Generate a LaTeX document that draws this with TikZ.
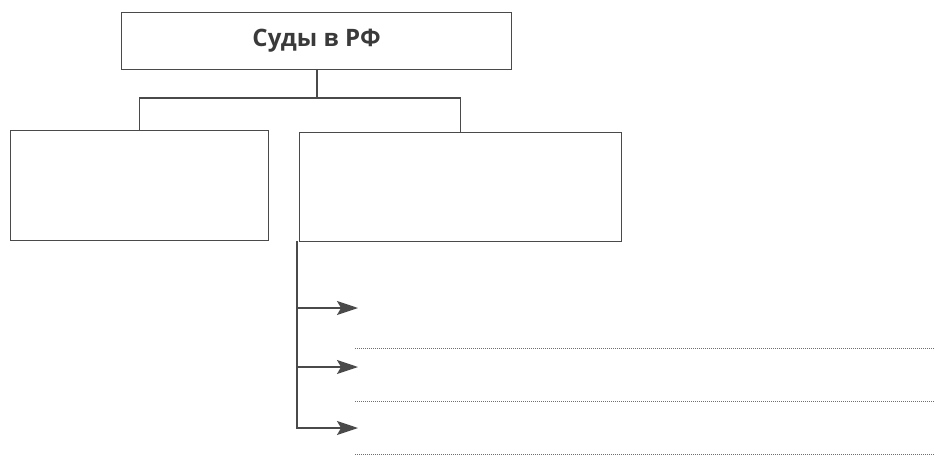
\documentclass[tikz,border=0pt]{standalone}
\usepackage{fontspec}
\setmainfont{Open Sans}
\usetikzlibrary{arrows.meta}
\definecolor{ln}{HTML}{4A4A4A}
\definecolor{tx}{HTML}{3A3A3A}
\begin{document}
\begin{tikzpicture}[x=1pt,y=-1pt,
  box/.style={draw=ln,line width=1.3pt,inner sep=0pt,anchor=north west},
  link/.style={draw=ln,line width=1.3pt},
  arr/.style={link,-{Stealth[length=21pt,width=14pt,inset=4pt]}},
  dots/.style={draw=ln!80,line width=0.8pt,dash pattern=on 0.9pt off 1.1pt}]
\useasboundingbox (0,0) rectangle (934,458);
\node[box,minimum width=390pt,minimum height=57pt,font=\bfseries\fontsize{24}{28}\selectfont,text=tx] (top) at (121,12) {Суды в РФ};
\node[box,minimum width=258pt,minimum height=110pt] (left) at (10,130) {};
\node[box,minimum width=322pt,minimum height=109pt] (right) at (299,132) {};
\coordinate (j) at (317,98);
\draw[link] (top.south -| j) -- (j);
\draw[link] (left.north) |- (j) -| (right.north);
\coordinate (a1) at (358,308);
\coordinate (a2) at (358,367);
\coordinate (a3) at (358,428);
\coordinate (v) at (297,241);
\draw[arr] (v) |- (a3);
\draw[arr] (v |- a1) -- (a1);
\draw[arr] (v |- a2) -- (a2);
\coordinate (d1s) at (355,348); \coordinate (d1e) at (934,348);
\coordinate (d2s) at (355,401); \coordinate (d2e) at (934,401);
\coordinate (d3s) at (355,454); \coordinate (d3e) at (934,454);
\draw[dots] (d1s) -- (d1e);
\draw[dots] (d2s) -- (d2e);
\draw[dots] (d3s) -- (d3e);
\end{tikzpicture}
\end{document}
